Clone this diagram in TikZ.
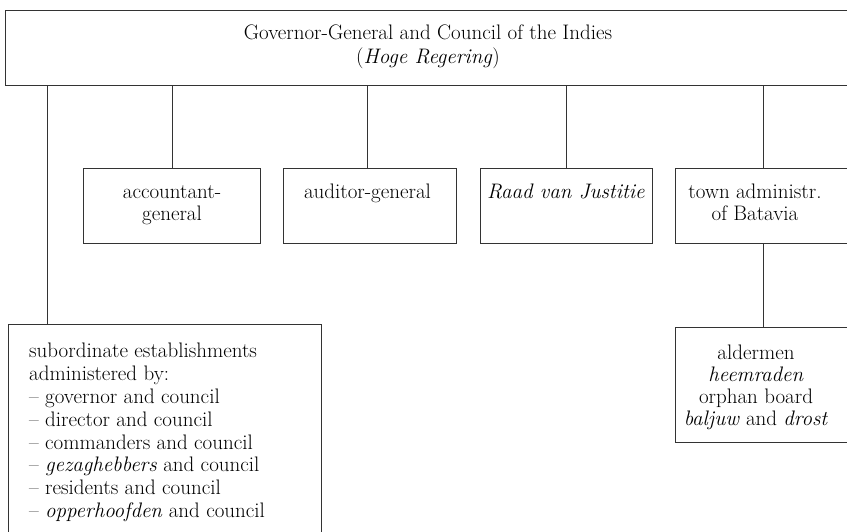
\documentclass[tikz,border=0pt]{standalone}
\begin{document}
\begin{tikzpicture}[x=1pt,y=-1pt,
  box/.style={draw=black!80, line width=0.8pt, inner sep=0pt, anchor=north west},
  txt/.style={inner sep=0pt, align=center, font=\fontsize{21}{22}\selectfont},
  ltxt/.style={inner sep=0pt, align=left, anchor=west, font=\fontsize{21}{22.9}\selectfont},
  link/.style={draw=black!80, line width=0.8pt}]
\useasboundingbox (0,0) rectangle (847,531);
\clip (0,0) rectangle (847,531);
% boxes
\node[box, minimum width=850pt, minimum height=75pt] (top) at (5,10) {};
\node[box, minimum width=177pt, minimum height=75pt] (acc) at (83,168) {};
\node[box, minimum width=173pt, minimum height=75pt] (aud) at (283,168) {};
\node[box, minimum width=172pt, minimum height=75pt] (raad) at (480,168) {};
\node[box, minimum width=176pt, minimum height=75pt] (town) at (675,168) {};
\node[box, minimum width=176pt, minimum height=115pt] (ald) at (675,327) {};
\node[box, minimum width=313pt, minimum height=230pt] (sub) at (8,324) {};
% texts
\node[txt] (topt) at (428,47) {\strut Governor-General and Council of the Indies\\\strut(\textit{Hoge Regering})};
\node[txt] (acct) at (172,205) {\strut accountant-\\\strut general};
\node[txt] (audt) at (367.5,194.5) {\strut auditor-general};
\node[txt] (raadt) at (566,194.5) {\strut\textit{Raad van Justitie}};
\node[txt] (townt) at (755,205) {\strut town administr.\\\strut of Batavia};
\node[txt] (aldt) at (756,388.5) {\strut aldermen\\\strut\textit{heemraden}\\\strut orphan board\\\strut\textit{baljuw} and \textit{drost}};
\node[ltxt] (subt) at (29,433) {\strut subordinate establishments\\\strut administered by:\\
\strut\textendash{} governor and council\\
\strut\textendash{} director and council\\
\strut\textendash{} commanders and council\\
\strut\textendash{} \textit{gezaghebbers} and council\\
\strut\textendash{} residents and council\\
\strut\textendash{} \textit{opperhoofden} and council};
% connectors
\coordinate (c1) at (47,0);
\coordinate (c2) at (172,0);
\coordinate (c3) at (367,0);
\coordinate (c4) at (566,0);
\coordinate (c5) at (763,0);
\draw[link] (top.south -| c1) -- (sub.north -| c1);
\draw[link] (top.south -| c2) -- (acc.north -| c2);
\draw[link] (top.south -| c3) -- (aud.north -| c3);
\draw[link] (top.south -| c4) -- (raad.north -| c4);
\draw[link] (top.south -| c5) -- (town.north -| c5);
\draw[link] (town.south -| c5) -- (ald.north -| c5);
\end{tikzpicture}
\end{document}
